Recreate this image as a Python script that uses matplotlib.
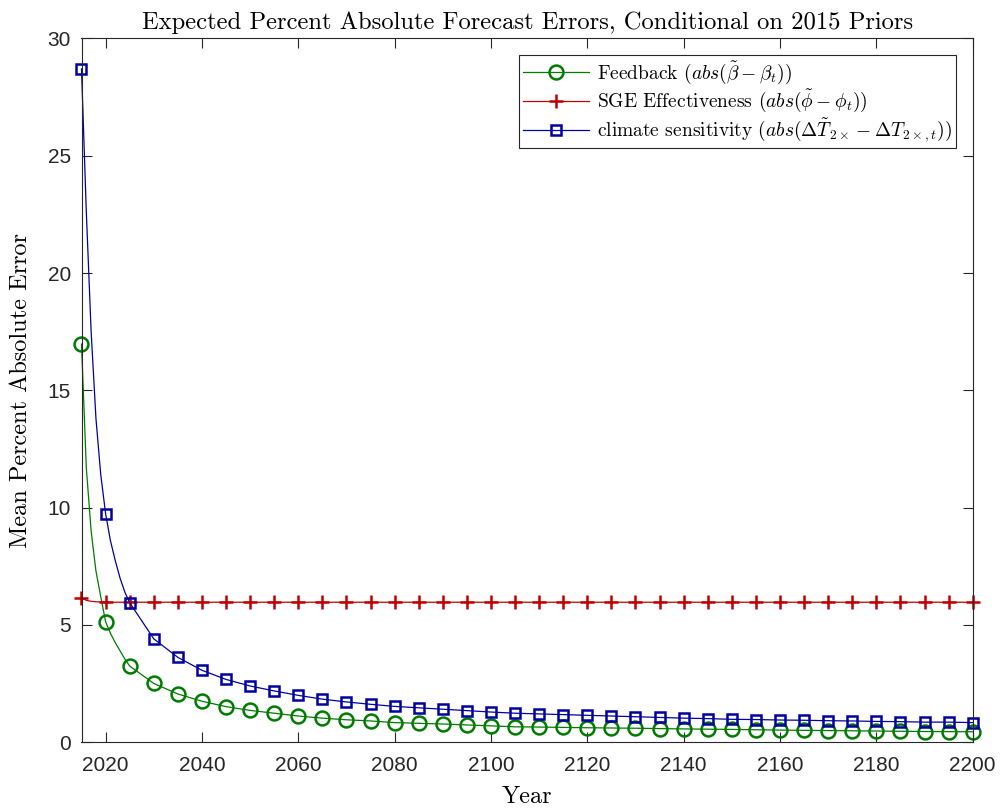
import matplotlib
matplotlib.use('Agg')
import matplotlib.pyplot as plt

plt.rcParams['mathtext.fontset'] = 'cm'
plt.rcParams['axes.unicode_minus'] = False

# years: annual up to 2025, then every 5 years
years = list(range(2015, 2026)) + list(range(2030, 2201, 5))

feedback = [16.97, 11.7, 9.0, 7.3, 6.2, 5.14, 4.65, 4.25, 3.9, 3.55, 3.25,
            2.51, 2.06, 1.75, 1.52, 1.36, 1.24, 1.12, 1.03, 0.96, 0.91,
            0.84, 0.81, 0.78, 0.74, 0.70, 0.66, 0.65, 0.635, 0.62, 0.61,
            0.60, 0.585, 0.57, 0.56, 0.55, 0.535, 0.52, 0.51, 0.50, 0.49,
            0.48, 0.47, 0.46, 0.455, 0.45]

sge = [6.16, 6.05, 6.01, 5.99, 5.98, 5.98, 5.97, 5.97, 5.97, 5.97, 5.97,
       5.97, 5.97, 5.97, 5.97, 5.97, 5.97, 5.97, 5.97, 5.97, 5.97,
       5.97, 5.97, 5.97, 5.97, 5.97, 5.97, 5.97, 5.97, 5.97, 5.97,
       5.97, 5.97, 5.97, 5.97, 5.97, 5.97, 5.97, 5.97, 5.97, 5.97,
       5.97, 5.97, 5.97, 5.97, 5.97]

sensitivity = [28.7, 22.6, 17.5, 13.8, 11.4, 9.75, 8.6, 7.75, 7.0, 6.4, 5.95,
               4.41, 3.62, 3.07, 2.68, 2.40, 2.19, 2.00, 1.84, 1.72, 1.62,
               1.53, 1.47, 1.41, 1.35, 1.29, 1.24, 1.21, 1.18, 1.15, 1.12,
               1.09, 1.06, 1.03, 1.01, 0.98, 0.97, 0.95, 0.94, 0.92, 0.91,
               0.89, 0.88, 0.86, 0.86, 0.84]

labels = [r'Feedback $(abs(\tilde{\beta}-\beta_t))$',
          r'SGE Effectiveness $(abs(\tilde{\phi}-\phi_t))$',
          r'climate sensitivity $(abs(\Delta\tilde{T}_{2\times}-\Delta T_{2\times,t}))$']

x_ticks = list(range(2020, 2201, 20))
y_ticks = [0, 5, 10, 15, 20, 25, 30]

# markers only on 5-year points
marks = [i for i, y in enumerate(years) if y % 5 == 0]

axis_col = '#262626'
serif = 'cmr10'

fig = plt.figure(figsize=(10, 8.11), dpi=100)
ax = fig.add_axes([0.0815, 0.0847, 0.8912, 0.868])

ax.plot(years, feedback, color='#007a00', lw=0.9, marker='o', markevery=marks,
        markersize=10, markerfacecolor='none', markeredgewidth=1.8,
        clip_on=False, label=labels[0])
ax.plot(years, sge, color='#c00000', lw=0.9, marker='+', markevery=marks,
        markersize=10, markeredgewidth=1.8, clip_on=False, label=labels[1])
ax.plot(years, sensitivity, color='#0000a0', lw=0.9, marker='s', markevery=marks,
        markersize=7.5, markerfacecolor='none', markeredgewidth=1.8,
        clip_on=False, label=labels[2])

ax.set_xlim(2015, 2200)
ax.set_ylim(0, 30)
ax.set_xticks(x_ticks)
ax.set_yticks(y_ticks)
ax.tick_params(direction='in', length=7, width=0.8, colors=axis_col,
               top=True, right=True, labelsize=15)
ax.tick_params(axis='x', pad=10)
ax.tick_params(axis='y', pad=7.5)
for lab in ax.get_xticklabels() + ax.get_yticklabels():
    lab.set_fontfamily('Liberation Sans')
for sp in ax.spines.values():
    sp.set_color(axis_col)
    sp.set_linewidth(0.8)

ax.set_title('Expected Percent Absolute Forecast Errors, Conditional on 2015 Priors',
             fontname=serif, fontsize=17.7, pad=7)
ax.set_xlabel('Year', fontname=serif, fontsize=17.5, labelpad=8)
ax.set_ylabel('Mean Percent Absolute Error', fontname=serif, fontsize=17.5, labelpad=11)

leg = ax.legend(loc='upper right', prop={'family': serif, 'size': 14},
                fancybox=False, edgecolor=axis_col, framealpha=1,
                borderaxespad=0.88, handlelength=3.4, handletextpad=0.4,
                labelspacing=0.1, borderpad=0.2)
leg.get_frame().set_linewidth(0.8)

fig.savefig('out.png', dpi=100)
